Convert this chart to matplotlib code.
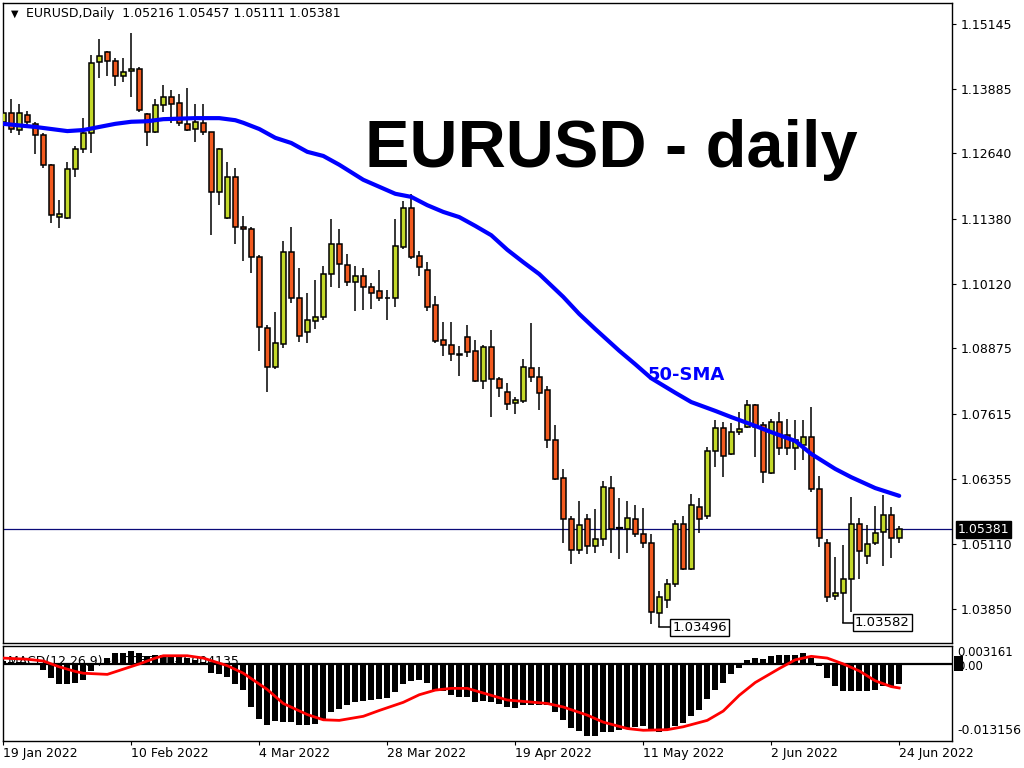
import numpy as np
import matplotlib.pyplot as plt
from matplotlib.patches import Rectangle
import matplotlib.transforms as mtransforms

# --- OHLC daily candles, 19 Jan 2022 .. 24 Jun 2022 ---
opens = [1.1325, 1.1342, 1.1309, 1.1338, 1.1321, 1.1299, 1.1242, 1.1141, 1.1139, 1.1234,
         1.1272, 1.1303, 1.1440, 1.1460, 1.1442, 1.1413, 1.1423, 1.1427, 1.1340, 1.1305,
         1.1357, 1.1373, 1.1361, 1.1321, 1.1311, 1.1323, 1.1305, 1.1189, 1.1139, 1.1218,
         1.1122, 1.1118, 1.1064, 1.0927, 1.0852, 1.0896, 1.1074, 1.0985, 1.0919, 1.0940,
         1.0948, 1.1031, 1.1089, 1.1049, 1.1016, 1.1027, 1.1006, 1.0998, 1.0985, 1.0985,
         1.1083, 1.1159, 1.1066, 1.1039, 1.0971, 1.0904, 1.0894, 1.0876, 1.0910, 1.0883,
         1.0825, 1.0890, 1.0829, 1.0803, 1.0782, 1.0786, 1.0850, 1.0832, 1.0807, 1.0711,
         1.0637, 1.0558, 1.0499, 1.0558, 1.0506, 1.0520, 1.0618, 1.0541, 1.0539, 1.0558,
         1.0529, 1.0512, 1.0377, 1.0402, 1.0433, 1.0549, 1.0462, 1.0581, 1.0564, 1.0690,
         1.0734, 1.0684, 1.0726, 1.0736, 1.0778, 1.0740, 1.0647, 1.0746, 1.0720, 1.0695,
         1.0701, 1.0717, 1.0616, 1.0512, 1.0410, 1.0416, 1.0443, 1.0549, 1.0487, 1.0512,
         1.0533, 1.0566, 1.05216]
highs = [1.1357, 1.1369, 1.1359, 1.1346, 1.1325, 1.1303, 1.1244, 1.1174, 1.1247, 1.1278,
         1.1332, 1.1454, 1.1485, 1.1462, 1.1448, 1.1448, 1.1496, 1.1431, 1.1341, 1.1369,
         1.1396, 1.1386, 1.1379, 1.1390, 1.1359, 1.1359, 1.1306, 1.1274, 1.1247, 1.1236,
         1.1143, 1.1122, 1.1068, 1.0933, 1.0958, 1.1095, 1.1122, 1.1043, 1.0995, 1.1020,
         1.1047, 1.1137, 1.1118, 1.1070, 1.1047, 1.1043, 1.1014, 1.1039, 1.1000, 1.1137,
         1.1172, 1.1186, 1.1076, 1.1054, 1.0989, 1.0939, 1.0939, 1.0892, 1.0933, 1.0904,
         1.0894, 1.0923, 1.0832, 1.0821, 1.0794, 1.0867, 1.0937, 1.0852, 1.0815, 1.0740,
         1.0655, 1.0564, 1.0593, 1.0568, 1.0578, 1.0632, 1.0641, 1.0599, 1.0593, 1.0585,
         1.0580, 1.0529, 1.0419, 1.0443, 1.0556, 1.0564, 1.0607, 1.0599, 1.0697, 1.0749,
         1.0746, 1.0744, 1.0765, 1.0788, 1.0780, 1.0746, 1.0751, 1.0765, 1.0751, 1.0749,
         1.0749, 1.0774, 1.0641, 1.0520, 1.0485, 1.0508, 1.0601, 1.0560, 1.0547, 1.0583,
         1.0605, 1.0581, 1.05457]
lows = [1.1319, 1.1303, 1.1299, 1.1313, 1.1263, 1.1236, 1.1130, 1.1120, 1.1137, 1.1218,
        1.1265, 1.1265, 1.1409, 1.1413, 1.1394, 1.1402, 1.1373, 1.1344, 1.1278, 1.1303,
        1.1344, 1.1323, 1.1317, 1.1307, 1.1286, 1.1299, 1.1106, 1.1164, 1.1137, 1.1089,
        1.1056, 1.1033, 1.0883, 1.0803, 1.0848, 1.0888, 1.0975, 1.0900, 1.0898, 1.0925,
        1.0942, 1.1006, 1.1004, 1.1008, 1.0960, 1.0962, 1.0964, 1.0979, 1.0942, 1.0967,
        1.1079, 1.1060, 1.1027, 1.0960, 1.0898, 1.0873, 1.0863, 1.0834, 1.0871, 1.0823,
        1.0809, 1.0755, 1.0794, 1.0769, 1.0761, 1.0782, 1.0823, 1.0769, 1.0695, 1.0634,
        1.0512, 1.0471, 1.0491, 1.0491, 1.0493, 1.0506, 1.0493, 1.0481, 1.0493, 1.0524,
        1.0502, 1.0355, 1.03496, 1.0387, 1.0427, 1.0460, 1.0460, 1.0531, 1.0558, 1.0659,
        1.0639, 1.0682, 1.0720, 1.0734, 1.0678, 1.0628, 1.0645, 1.0682, 1.0682, 1.0653,
        1.0672, 1.0610, 1.0504, 1.0398, 1.0402, 1.03582, 1.0379, 1.0443, 1.0471, 1.0508,
        1.0468, 1.0483, 1.05111]
closes = [1.1342, 1.1311, 1.1342, 1.1325, 1.1299, 1.1242, 1.1145, 1.1147, 1.1234, 1.1272,
          1.1303, 1.1438, 1.1452, 1.1442, 1.1413, 1.1421, 1.1427, 1.1348, 1.1305, 1.1357,
          1.1373, 1.1359, 1.1323, 1.1309, 1.1325, 1.1305, 1.1189, 1.1272, 1.1218, 1.1122,
          1.1118, 1.1064, 1.0929, 1.0852, 1.0898, 1.1074, 1.0985, 1.0912, 1.0942, 1.0948,
          1.1031, 1.1089, 1.1050, 1.1016, 1.1027, 1.1006, 1.0995, 1.0985, 1.0984, 1.1085,
          1.1159, 1.1064, 1.1045, 1.0967, 1.0902, 1.0894, 1.0877, 1.0875, 1.0881, 1.0825,
          1.0890, 1.0829, 1.0811, 1.0780, 1.0788, 1.0852, 1.0832, 1.0802, 1.0711, 1.0636,
          1.0558, 1.0499, 1.0547, 1.0506, 1.0520, 1.0620, 1.0539, 1.0541, 1.0560, 1.0529,
          1.0512, 1.0379, 1.0408, 1.0433, 1.0549, 1.0462, 1.0585, 1.0558, 1.0690, 1.0734,
          1.0680, 1.0726, 1.0732, 1.0778, 1.0735, 1.0649, 1.0746, 1.0695, 1.0695, 1.0711,
          1.0717, 1.0616, 1.0522, 1.0408, 1.0416, 1.0443, 1.0549, 1.0497, 1.0510, 1.0531,
          1.0566, 1.0522, 1.05381]

# 50-day SMA (bar index, value)
sma_bars = [0, 4, 8, 10, 12, 14, 16, 18, 20, 24, 27, 29, 30, 32, 34, 36, 38, 40, 42, 45,
            49, 51, 53, 55, 57, 59, 61, 63, 65, 67, 70, 72, 74, 77, 79, 81, 84, 86, 89, 91,
            94, 96, 99, 101, 104, 106, 109, 112]
sma_vals = [1.1321, 1.1315, 1.1307, 1.1309, 1.1315, 1.1321, 1.1325, 1.1326, 1.1330, 1.1332,
            1.1332, 1.1328, 1.1323, 1.1311, 1.1294, 1.1284, 1.1267, 1.1259, 1.1242, 1.1213,
            1.1186, 1.1180, 1.1164, 1.1151, 1.1141, 1.1124, 1.1106, 1.1078, 1.1054, 1.1031,
            1.0987, 1.0954, 1.0925, 1.0883, 1.0857, 1.0830, 1.0802, 1.0784, 1.0767, 1.0755,
            1.0738, 1.0726, 1.0709, 1.0684, 1.0655, 1.0639, 1.0618, 1.0603]

# MACD(12,26,9) main line shown as histogram
macd_hist = [0.0005, 0.0004, 0.0003, 0.0001, -0.0002, -0.0011, -0.0025, -0.0035, -0.0035, -0.0032,
             -0.0028, -0.0013, 0.0002, 0.0010, 0.0018, 0.0018, 0.0023, 0.0018, 0.0013, 0.0016,
             0.0016, 0.0016, 0.0013, 0.0010, 0.0007, 0.0003, -0.0015, -0.0017, -0.0022, -0.0034,
             -0.0045, -0.0074, -0.0094, -0.0105, -0.0098, -0.0099, -0.0100, -0.0105, -0.0105, -0.0103,
             -0.0097, -0.0082, -0.0077, -0.0070, -0.0066, -0.0064, -0.0062, -0.0061, -0.0058, -0.0049,
             -0.0034, -0.0030, -0.0028, -0.0032, -0.0045, -0.0047, -0.0053, -0.0057, -0.0057, -0.0065,
             -0.0064, -0.0065, -0.0069, -0.0074, -0.0075, -0.0070, -0.0070, -0.0070, -0.0071, -0.0082,
             -0.0097, -0.0110, -0.0116, -0.0123, -0.0123, -0.0117, -0.0117, -0.0113, -0.0110, -0.0108,
             -0.0107, -0.0116, -0.0117, -0.0114, -0.0106, -0.0102, -0.0090, -0.0080, -0.0061, -0.0044,
             -0.0032, -0.0018, -0.0007, 0.0006, 0.0010, 0.0009, 0.0014, 0.0016, 0.0016, 0.0016,
             0.0018, 0.0010, -0.0004, -0.0024, -0.0038, -0.0047, -0.0047, -0.0047, -0.0047, -0.0045,
             -0.0038, -0.0038, -0.003501]
sig_bars = [0, 3, 5, 7, 9, 10, 13, 15, 17, 19, 20, 23, 25, 28, 30, 33, 35, 38, 40, 42,
            45, 47, 50, 52, 54, 56, 58, 60, 63, 68, 70, 73, 75, 78, 80, 83, 85, 88, 90, 92,
            94, 97, 99, 101, 103, 105, 107, 109, 111, 112]
sig_vals = [0.0010, 0.0008, 0.0005, -0.0005, -0.0013, -0.0016, -0.0018, -0.0009, 0.0000, 0.0010,
            0.0014, 0.0014, 0.0010, -0.0003, -0.0016, -0.0044, -0.0068, -0.0087, -0.0096, -0.0097,
            -0.0090, -0.0080, -0.0066, -0.0053, -0.0045, -0.0042, -0.0042, -0.0050, -0.0062, -0.0068,
            -0.0074, -0.0088, -0.0100, -0.0111, -0.0114, -0.0113, -0.0108, -0.0097, -0.0081, -0.0054,
            -0.0032, -0.0008, 0.0007, 0.0013, 0.0010, 0.0000, -0.0012, -0.0029, -0.0039, -0.004135]

price_ticks = [1.15145, 1.13885, 1.12640, 1.11380, 1.10120, 1.08875, 1.07615, 1.06355, 1.05110, 1.03850]
date_labels = ['19 Jan 2022', '10 Feb 2022', '4 Mar 2022', '28 Mar 2022',
               '19 Apr 2022', '11 May 2022', '2 Jun 2022', '24 Jun 2022']
date_pos = [0, 16, 32, 48, 64, 80, 96, 112]

UP = '#c3d82a'
DOWN = '#f25a1f'

W, H = 1024, 768
fig = plt.figure(figsize=(W / 100, H / 100), dpi=100)
fig.patch.set_facecolor('white')

def box(x0, y0, x1, y1):
    return [x0 / W, 1 - y1 / H, (x1 - x0) / W, (y1 - y0) / H]

ax = fig.add_axes(box(3, 2.7, 952, 643.3))
axm = fig.add_axes(box(3, 645.5, 952, 740.5))

n = len(opens)
xs = np.arange(n)
bw = 0.62

# candles
for i in range(n):
    o, h, l, c = opens[i], highs[i], lows[i], closes[i]
    ax.plot([i, i], [l, h], color='black', lw=1.1, zorder=2, solid_capstyle='butt')
    bot, top = min(o, c), max(o, c)
    if top - bot < 0.00005:
        ax.plot([i - bw / 2, i + bw / 2], [o, o], color='black', lw=1.6, zorder=3)
    else:
        ax.add_patch(Rectangle((i - bw / 2, bot), bw, top - bot,
                               facecolor=UP if c > o else DOWN,
                               edgecolor='black', lw=1.1, zorder=3))

ax.plot(sma_bars, sma_vals, color='#0000ff', lw=3.0, zorder=4,
        solid_capstyle='round', solid_joinstyle='round')

# current price line
last = closes[-1]
ax.axhline(last, color='#0a0a78', lw=0.9, zorder=1)

ax.set_xlim(-0.04, 118.6)
ax.set_ylim(1.03184, 1.15548)
ax.yaxis.tick_right()
ax.set_yticks(price_ticks)
ax.set_yticklabels(['%.5f' % v for v in price_ticks])
ax.tick_params(axis='y', length=3, width=0.8, pad=3, labelsize=9, colors='black')
ax.set_xticks([])
for s in ax.spines.values():
    s.set_color('black')
    s.set_linewidth(1)

trans = mtransforms.blended_transform_factory(ax.transAxes, ax.transData)
ax.text(1.006, last, '%.5f' % last, transform=trans, ha='left', va='center',
        fontsize=9, color='white', zorder=6,
        bbox=dict(boxstyle='square,pad=0.15', facecolor='black', edgecolor='black'))

# low labels
i_low1 = 82
i_low2 = 105
for i, xb in [(i_low1, 83.5), (i_low2, 106.3)]:
    ax.plot([i, xb], [lows[i], lows[i]], color='black', lw=1.1, zorder=4)
    ax.text(xb + 0.15, lows[i], '%.5f' % lows[i], ha='left', va='center', fontsize=9.5,
            zorder=5, bbox=dict(boxstyle='square,pad=0.15', facecolor='white',
                                edgecolor='black', lw=1))

ax.text(0.0085, 0.983, '\u25bc', transform=ax.transAxes, fontsize=7, va='center', ha='left')
ax.text(0.024, 0.983, 'EURUSD,Daily  %.5f %.5f %.5f %.5f' % (opens[-1], highs[-1], lows[-1], closes[-1]),
        transform=ax.transAxes, fontsize=9, va='center', ha='left')

fig.text(365 / W, 1 - 167 / H, 'EURUSD - daily', fontsize=48, fontweight='bold',
         family='Liberation Sans', ha='left', va='baseline')
ax.text(648 / W, 1 - 375 / H, '50-SMA', transform=fig.transFigure, fontsize=13,
        fontweight='bold', color='#0000ff', ha='left', va='center')

# MACD panel
axm.bar(xs, macd_hist, width=0.75, color='black', zorder=3)
axm.axhline(0, color='black', lw=1.6, zorder=4)
axm.plot(sig_bars, sig_vals, color='#ff0000', lw=2.0, zorder=5, solid_joinstyle='round')
axm.set_xlim(-0.04, 118.6)
axm.set_ylim(-0.013156, 0.003161)
axm.set_yticks([])
axm.set_xticks(date_pos)
axm.set_xticklabels(date_labels, ha='left', fontsize=9)
axm.tick_params(axis='x', length=3, width=0.8, pad=2)
for s in axm.spines.values():
    s.set_color('black')
    s.set_linewidth(1)
axm.text(0.005, 0.83, 'MACD(12,26,9) %.6f %.6f' % (macd_hist[-1], sig_vals[-1]),
         transform=axm.transAxes, fontsize=9, va='center', ha='left', zorder=1)
tm = mtransforms.blended_transform_factory(axm.transAxes, axm.transData)
axm.text(1.006, 1.0, '0.003161', transform=axm.transAxes, fontsize=8.5, va='top', ha='left')
axm.text(1.006, 0.1, '-0.013156', transform=axm.transAxes, fontsize=9, va='center', ha='left')
axm.add_patch(Rectangle((1.002, -0.0013), 0.01, 0.0026, transform=tm, facecolor='black',
                        clip_on=False, zorder=5))
axm.text(1.006, -0.0004, '0.00', transform=tm, fontsize=8.5, va='center', ha='left', zorder=6)

fig.savefig('out.png', dpi=100)
